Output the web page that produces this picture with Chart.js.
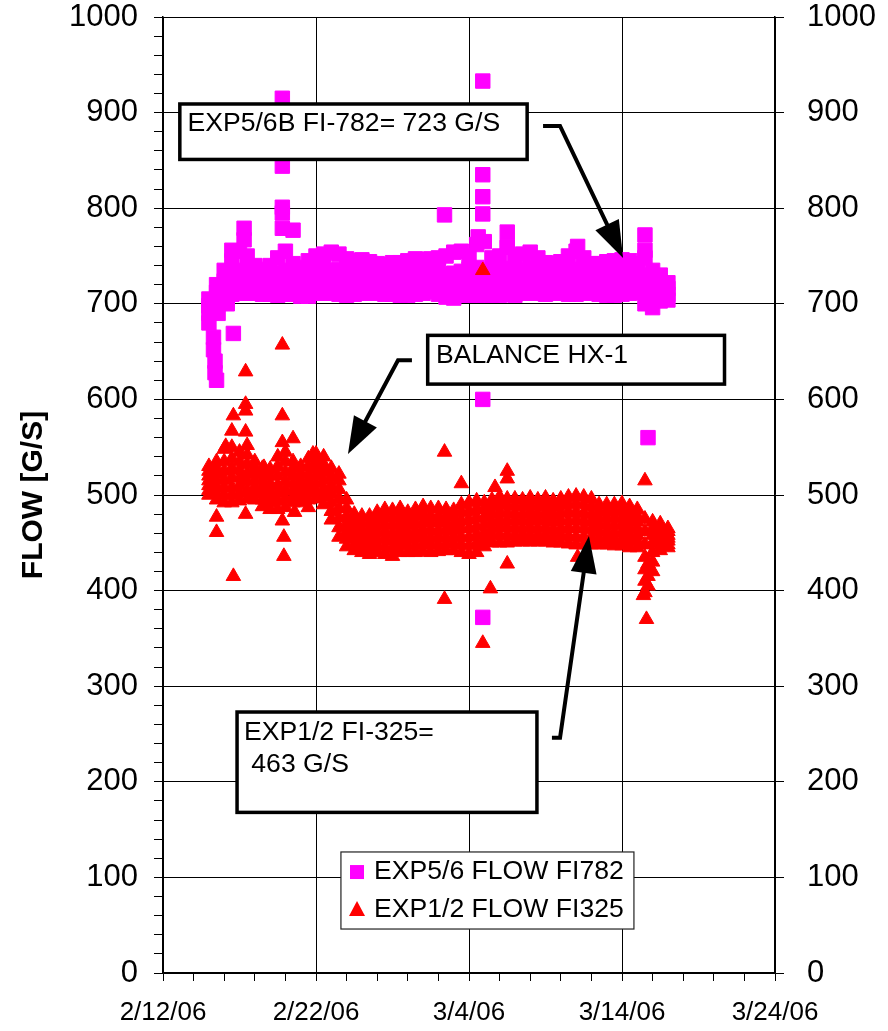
<!DOCTYPE html>
<html>
<head>
<meta charset="utf-8">
<script src="https://cdn.jsdelivr.net/npm/chart.js@4/dist/chart.umd.min.js"></script>
<style>
  body { margin: 0; background: #fff; }
  canvas { display: block; }
</style>
</head>
<body>
<canvas id="flow-chart" width="888" height="1031"></canvas>
<script>
// Axis labels (x is days since 2/12/06)
var xTickLabels = ['2/12/06', '2/22/06', '3/4/06', '3/14/06', '3/24/06'];

// Sample days across the dense band of readings
var bandDays = [3, 3.5, 4, 4.5, 5, 5.5, 6, 6.5, 7, 7.5, 8, 8.5, 9, 9.5, 10, 10.5, 11, 11.5, 12, 12.5,
    13, 13.5, 14, 14.5, 15, 15.5, 16, 16.5, 17, 17.5, 18, 18.5, 19, 19.5, 20, 20.5, 21, 21.5, 22, 22.5,
    23, 23.5, 24, 24.5, 25, 25.5, 26, 26.5, 27, 27.5, 28, 28.5, 29, 29.5, 30, 30.5, 31, 31.5, 32, 32.5, 33];

// EXP5/6 FLOW FI782 (bottom to top)
var fi782Row1 = [680, 695, 705, 710, 711, 711, 711, 710, 710, 709, 710, 710, 708, 708, 711, 711, 711, 710, 709, 710,
    711, 711, 711, 710, 710, 709, 709, 710, 711, 713, 710, 707, 706, 709, 709, 709, 709, 709, 709, 710,
    709, 711, 711, 711, 710, 711, 711, 710, 710, 711, 711, 710, 709, 709, 710, 711, 712, 700, 696, 703, 704];
var fi782Row2 = [690, 705, 714, 720, 722, 722, 720, 720, 720, 720, 722, 720, 718, 720, 722, 724, 722, 722, 720, 720,
    722, 722, 720, 720, 721, 720, 720, 720, 722, 724, 722, 718, 718, 720, 722, 722, 720, 720, 722, 722,
    720, 722, 724, 722, 720, 720, 722, 722, 722, 722, 720, 720, 720, 720, 720, 722, 722, 715, 710, 712, 710];
var fi782Row3 = [698, 712, 724, 732, 735, 735, 730, 728, 730, 732, 735, 730, 728, 732, 735, 738, 735, 736, 733, 732,
    734, 733, 731, 730, 732, 731, 732, 732, 734, 735, 735, 730, 732, 734, 736, 738, 735, 734, 735, 737,
    735, 736, 738, 735, 732, 730, 733, 735, 736, 734, 731, 730, 732, 732, 733, 734, 732, 730, 722, 722, 716];
var fi782Row4 = [705, 720, 735, 745, 755, 750, 740, 736, 740, 748, 755, 742, 738, 745, 750, 752, 754, 752, 747, 745,
    746, 744, 742, 741, 743, 743, 745, 747, 746, 747, 748, 750, 754, 755, 750, 762, 765, 748, 750, 760,
    750, 752, 754, 748, 743, 742, 744, 750, 755, 748, 742, 742, 744, 745, 746, 745, 742, 748, 735, 730, 722];
var fi782ExtraDays = [3.3, 3.3, 3.4, 3.4, 3.5, 3.6, 4.6, 4.5, 5.3, 5.3, 7.8, 7.8, 7.8, 7.8, 7.8, 8.5, 18.4,
    20.9, 20.9, 20.9, 20.9, 20.9, 20.9, 20.6, 22.5, 22.5, 27.1, 31.5, 31.5, 31.7, 4.2];
var fi782ExtraFlow = [665, 652, 640, 628, 620, 690, 669, 756, 779, 767, 915, 844, 801, 795, 779, 777, 793,
    933, 835, 812, 794, 600, 372, 770, 775, 759, 760, 772, 756, 560, 700];

// EXP1/2 FLOW FI325 (bottom to top)
var fi325Row1 = [500, 495, 492, 492, 494, 496, 495, 488, 485, 485, 487, 492, 492, 495, 496, 490, 474, 456, 446, 442,
    440, 438, 440, 438, 436, 440, 440, 440, 441, 440, 441, 442, 442, 440, 438, 440, 446, 450, 450, 450,
    451, 451, 451, 451, 451, 450, 450, 449, 448, 448, 448, 448, 448, 447, 447, 445, 445, 398, 420, 442, 445];
var fi325Row2 = [505, 502, 500, 500, 502, 505, 502, 495, 492, 494, 496, 498, 498, 502, 504, 498, 483, 466, 454, 448,
    446, 445, 447, 446, 444, 448, 447, 447, 449, 448, 448, 449, 449, 448, 447, 449, 454, 458, 458, 458,
    458, 458, 458, 458, 458, 457, 458, 457, 456, 456, 456, 455, 455, 454, 454, 452, 452, 410, 430, 447, 448];
var fi325Row3 = [510, 508, 508, 508, 510, 514, 508, 502, 498, 502, 505, 505, 504, 508, 512, 506, 492, 476, 462, 455,
    452, 451, 454, 454, 452, 455, 454, 455, 457, 455, 456, 456, 456, 456, 456, 458, 461, 465, 466, 466,
    466, 465, 466, 465, 466, 464, 465, 465, 465, 465, 464, 462, 462, 461, 461, 459, 458, 422, 440, 451, 452];
var fi325Row4 = [515, 515, 516, 518, 518, 522, 515, 508, 505, 510, 514, 512, 510, 515, 520, 515, 501, 486, 470, 461,
    458, 458, 461, 462, 460, 463, 461, 462, 464, 463, 463, 464, 463, 465, 465, 467, 469, 472, 474, 473,
    474, 473, 474, 473, 474, 472, 473, 473, 474, 473, 472, 469, 469, 468, 469, 466, 465, 435, 450, 456, 455];
var fi325Row5 = [520, 522, 525, 528, 526, 532, 522, 515, 512, 520, 524, 520, 516, 522, 528, 524, 510, 496, 478, 467,
    464, 464, 468, 470, 468, 471, 468, 470, 472, 471, 471, 471, 470, 473, 474, 476, 477, 480, 482, 481,
    481, 480, 482, 480, 482, 479, 481, 482, 482, 481, 480, 476, 476, 476, 476, 474, 472, 448, 458, 461, 458];
var fi325Row6 = [525, 528, 535, 538, 535, 542, 528, 522, 520, 530, 535, 528, 523, 530, 535, 532, 519, 506, 486, 474,
    471, 471, 475, 478, 476, 479, 475, 478, 480, 478, 478, 478, 477, 482, 483, 485, 485, 488, 490, 489,
    489, 488, 490, 488, 490, 487, 489, 490, 491, 490, 488, 483, 483, 483, 484, 481, 478, 462, 465, 465, 462];
var fi325Row7 = [530, 535, 548, 550, 545, 552, 535, 528, 527, 540, 545, 535, 530, 538, 543, 540, 528, 515, 495, 480,
    478, 478, 482, 485, 484, 486, 482, 485, 488, 486, 486, 485, 484, 490, 492, 494, 492, 495, 498, 496,
    496, 495, 497, 495, 497, 494, 496, 498, 499, 498, 496, 490, 490, 490, 491, 488, 485, 475, 472, 470, 465];
var fi325ExtraDays = [7.8, 5.4, 5.4, 5.4, 4.6, 7.8, 4.5, 5.4, 8.5, 7.8, 4.1, 9.8, 6.6, 11.5, 3.5, 3.5, 5.4, 7.9,
    7.9, 7.8, 8.6, 9.5, 4.6, 18.4, 19.5, 22.5, 22.5, 21.7, 31.5, 18.4, 21.4, 22.5, 31.6, 27.1, 20.9, 20.9,
    31.7, 31.7, 31.7, 31.4];
var fi325ExtraFlow = [657, 629, 595, 588, 583, 583, 567, 566, 559, 555, 551, 543, 529, 522, 477, 461, 480, 456,
    436, 473, 482, 487, 415, 545, 512, 525, 517, 508, 515, 391, 402, 428, 370, 435, 345, 735,
    405, 415, 428, 395];

var FONT = "'Liberation Sans', Arial, sans-serif";

// Turn the band rows plus the single outliers into scatter points
function CreatePoints(rows, extraDays, extraFlow) {
    var points = [];
    bandDays.forEach(function (day, i) {
        rows.forEach(function (row) {
            points.push({ x: day, y: row[i] });
        });
    });
    extraDays.forEach(function (day, i) {
        points.push({ x: day, y: extraFlow[i] });
    });
    return points;
}

// Call-out boxes and arrows, placed in data units (day, flow)
var callouts = [
    { box: [1.1, 909, 23.8, 851], lines: [[1.6, 888, 'EXP5/6B FI-782= 723 G/S']],
      arrow: [[24.84, 886], [25.95, 886], [30.07, 748]] },
    { box: [17.3, 667, 36.7, 616], lines: [[17.84, 646, 'BALANCE HX-1']],
      arrow: [[16.27, 641], [15.36, 641], [12.09, 543]] },
    { box: [4.84, 273, 24.44, 168], lines: [[5.29, 251, 'EXP1/2 FI-325='], [5.29, 218, ' 463 G/S']],
      arrow: [[25.42, 246], [25.95, 246], [27.84, 457]] }
];

var calloutPlugin = {
    id: 'callouts',
    afterDatasetsDraw: function (chart) {
        var ctx = chart.ctx;
        var sx = chart.scales.x, sy = chart.scales.y;
        ctx.save();
        callouts.forEach(function (c) {
            var x0 = sx.getPixelForValue(c.box[0]), y0 = sy.getPixelForValue(c.box[1]);
            var x1 = sx.getPixelForValue(c.box[2]), y1 = sy.getPixelForValue(c.box[3]);
            ctx.fillStyle = '#fff';
            ctx.fillRect(x0, y0, x1 - x0, y1 - y0);
            ctx.lineWidth = 3.5;
            ctx.strokeStyle = '#000';
            ctx.strokeRect(x0, y0, x1 - x0, y1 - y0);
            ctx.fillStyle = '#000';
            ctx.font = '26.6px ' + FONT;
            ctx.textAlign = 'left';
            ctx.textBaseline = 'middle';
            c.lines.forEach(function (l) {
                ctx.fillText(l[2], sx.getPixelForValue(l[0]), sy.getPixelForValue(l[1]));
            });

            // arrow: polyline then a filled head at the last point
            var pts = c.arrow.map(function (p) {
                return [sx.getPixelForValue(p[0]), sy.getPixelForValue(p[1])];
            });
            var tip = pts[pts.length - 1], prev = pts[pts.length - 2];
            var dx = tip[0] - prev[0], dy = tip[1] - prev[1];
            var len = Math.sqrt(dx * dx + dy * dy);
            var ux = dx / len, uy = dy / len;
            var headLen = 37, headHalf = 13;
            var bx = tip[0] - ux * headLen, by = tip[1] - uy * headLen;
            ctx.lineWidth = 4;
            ctx.beginPath();
            ctx.moveTo(pts[0][0], pts[0][1]);
            for (var i = 1; i < pts.length - 1; i++) ctx.lineTo(pts[i][0], pts[i][1]);
            ctx.lineTo(bx + ux * 2, by + uy * 2);
            ctx.stroke();
            ctx.beginPath();
            ctx.moveTo(tip[0], tip[1]);
            ctx.lineTo(bx - uy * headHalf, by + ux * headHalf);
            ctx.lineTo(bx + uy * headHalf, by - ux * headHalf);
            ctx.closePath();
            ctx.fill();
        });
        ctx.restore();
    }
};

// Legend box inside the plot
var legendPlugin = {
    id: 'boxLegend',
    afterDatasetsDraw: function (chart) {
        var ctx = chart.ctx;
        var sx = chart.scales.x, sy = chart.scales.y;
        var x0 = sx.getPixelForValue(11.63), y0 = sy.getPixelForValue(126.6);
        var x1 = sx.getPixelForValue(30.78), y1 = sy.getPixelForValue(46);
        ctx.save();
        ctx.fillStyle = '#fff';
        ctx.fillRect(x0, y0, x1 - x0, y1 - y0);
        ctx.lineWidth = 1.2;
        ctx.strokeStyle = '#222';
        ctx.strokeRect(x0, y0, x1 - x0, y1 - y0);
        var mx = sx.getPixelForValue(12.68), tx = sx.getPixelForValue(13.79);
        var r1 = sy.getPixelForValue(105.6), r2 = sy.getPixelForValue(65.9);
        ctx.fillStyle = '#FF00FF';
        ctx.fillRect(mx - 7, r1 - 7, 14, 14);
        ctx.fillStyle = '#FF0000';
        ctx.beginPath();
        ctx.moveTo(mx, r2 - 9);
        ctx.lineTo(mx + 8, r2 + 6);
        ctx.lineTo(mx - 8, r2 + 6);
        ctx.closePath();
        ctx.fill();
        ctx.fillStyle = '#000';
        ctx.font = '26.6px ' + FONT;
        ctx.textAlign = 'left';
        ctx.textBaseline = 'middle';
        var sets = chart.data.datasets;
        ctx.fillText(sets[0].label, tx, r1);
        ctx.fillText(sets[1].label, tx, r2);
        ctx.restore();
    }
};

// Fix the frame so the plot area sits where the reference has it
function FixWidth(w) {
    return function (s) { s.width = w; s.paddingTop = 0; s.paddingBottom = 0; };
}

new Chart(document.getElementById('flow-chart'), {
    type: 'scatter',
    data: {
        datasets: [
            {
                label: 'EXP5/6 FLOW FI782',
                data: CreatePoints([fi782Row1, fi782Row2, fi782Row3, fi782Row4], fi782ExtraDays, fi782ExtraFlow),
                pointStyle: 'rect',
                pointRadius: 10.2,
                backgroundColor: '#FF00FF',
                borderColor: '#FF00FF',
                borderWidth: 1,
                order: 1
            },
            {
                label: 'EXP1/2 FLOW FI325',
                data: CreatePoints([fi325Row1, fi325Row2, fi325Row3, fi325Row4, fi325Row5, fi325Row6, fi325Row7],
                    fi325ExtraDays, fi325ExtraFlow),
                pointStyle: 'triangle',
                pointRadius: 8.4,
                backgroundColor: '#FF0000',
                borderColor: '#FF0000',
                borderWidth: 1,
                order: 0
            }
        ]
    },
    options: {
        responsive: false,
        animation: false,
        layout: { padding: { top: 17 } },
        plugins: {
            legend: { display: false },
            tooltip: { enabled: false }
        },
        scales: {
            x: {
                type: 'linear',
                position: 'bottom',
                min: 0,
                max: 40,
                afterFit: function (s) { s.height = 58; s.paddingLeft = 0; s.paddingRight = 0; },
                ticks: {
                    stepSize: 2,
                    autoSkip: false,
                    maxRotation: 0,
                    padding: 16,
                    color: '#000',
                    font: { family: FONT, size: 26 },
                    callback: function (v) { return v % 10 === 0 ? xTickLabels[v / 10] : ''; }
                },
                grid: {
                    color: function (c) { return c.tick && c.tick.value % 10 === 0 ? '#000' : 'rgba(0,0,0,0)'; },
                    tickColor: '#000',
                    tickLength: 8
                },
                border: { color: '#000', width: 1.5 }
            },
            y: {
                position: 'left',
                min: 0,
                max: 1000,
                afterFit: FixWidth(163),
                ticks: {
                    stepSize: 20,
                    autoSkip: false,
                    padding: 16,
                    color: '#000',
                    font: { family: FONT, size: 31 },
                    callback: function (v) { return v % 100 === 0 ? String(v) : ''; }
                },
                grid: {
                    color: function (c) { return c.tick && c.tick.value % 100 === 0 ? '#000' : 'rgba(0,0,0,0)'; },
                    tickColor: '#000',
                    tickLength: 9
                },
                border: { color: '#000', width: 1.5 },
                title: {
                    display: true,
                    text: 'FLOW [G/S]',
                    color: '#000',
                    font: { family: FONT, size: 30, weight: 'bold' },
                    padding: { top: 16, bottom: 0 }
                }
            },
            y2: {
                position: 'right',
                min: 0,
                max: 1000,
                afterFit: FixWidth(113),
                ticks: {
                    stepSize: 100,
                    padding: 23,
                    color: '#000',
                    font: { family: FONT, size: 31 },
                    callback: function (v) { return String(v); }
                },
                grid: { drawOnChartArea: false, tickColor: '#000', tickLength: 9 },
                border: { color: '#000', width: 1.5 }
            }
        }
    },
    plugins: [calloutPlugin, legendPlugin]
});
</script>
</body>
</html>
